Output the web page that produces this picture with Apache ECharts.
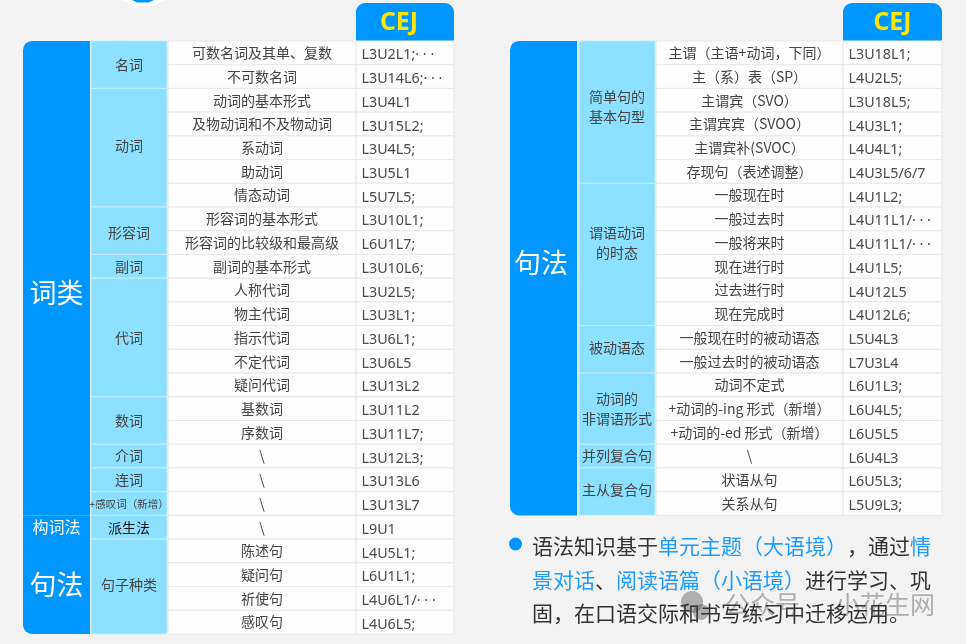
<!DOCTYPE html>
<html>
<head>
<meta charset="utf-8">
<style>html,body{margin:0;padding:0;background:#f3f3f3}#main{width:966px;height:644px}</style>
<script src="https://cdn.jsdelivr.net/npm/echarts@6/dist/echarts.min.js"></script>
</head>
<body>
<div id="main"></div>
<script>
// left table
var leftFamilies = ['词类', '构词法', '句法'];
var leftFamilySpans = [20, 1, 4];
var leftGroups = ['名词', '动词', '形容词', '副词', '代词', '数词', '介词', '连词', '+感叹词（新增）', '派生法', '句子种类'];
var leftGroupSpans = [2, 5, 2, 1, 5, 2, 1, 1, 1, 1, 4];
var leftTopics = ['可数名词及其单、复数', '不可数名词', '动词的基本形式', '及物动词和不及物动词', '系动词', '助动词', '情态动词',
    '形容词的基本形式', '形容词的比较级和最高级', '副词的基本形式', '人称代词', '物主代词', '指示代词', '不定代词', '疑问代词',
    '基数词', '序数词', '\\', '\\', '\\', '\\', '陈述句', '疑问句', '祈使句', '感叹句'];
var leftLessons = ['L3U2L1;· · ·', 'L3U14L6;· · ·', 'L3U4L1', 'L3U15L2;', 'L3U4L5;', 'L3U5L1', 'L5U7L5;',
    'L3U10L1;', 'L6U1L7;', 'L3U10L6;', 'L3U2L5;', 'L3U3L1;', 'L3U6L1;', 'L3U6L5', 'L3U13L2',
    'L3U11L2', 'L3U11L7;', 'L3U12L3;', 'L3U13L6', 'L3U13L7', 'L9U1', 'L4U5L1;', 'L6U1L1;', 'L4U6L1/· · ·', 'L4U6L5;'];

// right table
var rightFamilies = ['句法'];
var rightFamilySpans = [20];
var rightGroups = ['简单句的\n基本句型', '谓语动词\n的时态', '被动语态', '动词的\n非谓语形式', '并列复合句', '主从复合句'];
var rightGroupSpans = [6, 6, 2, 3, 1, 2];
var rightTopics = ['主谓（主语+动词，下同）', '主（系）表（SP）', '主谓宾（SVO）', '主谓宾宾（SVOO）', '主谓宾补(SVOC）', '存现句（表述调整）',
    '一般现在时', '一般过去时', '一般将来时', '现在进行时', '过去进行时', '现在完成时',
    '一般现在时的被动语态', '一般过去时的被动语态', '动词不定式', '+动词的-ing 形式（新增）', '+动词的-ed 形式（新增）',
    '\\', '状语从句', '关系从句'];
var rightLessons = ['L3U18L1;', 'L4U2L5;', 'L3U18L5;', 'L4U3L1;', 'L4U4L1;', 'L4U3L5/6/7',
    'L4U1L2;', 'L4U11L1/· · ·', 'L4U11L1/· · ·', 'L4U1L5;', 'L4U12L5', 'L4U12L6;',
    'L5U4L3', 'L7U3L4', 'L6U1L3;', 'L6U4L5;', 'L6U5L5', 'L6U4L3', 'L6U5L3;', 'L5U9L3;'];

var headerLabel = 'CEJ';

var BLUE = '#0096ff', SKY = '#8de0ff', FONT = '"Noto Sans CJK SC"';
var HEADER_ROWS = 1.6;

// x units are pixels of the column widths
var leftCols = {start: [0, 68, 145, 333], end: [67, 144, 333, 431], headDx: -6, familyDx: 0};
var rightCols = {start: [0, 69, 146, 333], end: [67, 145, 333, 432], headDx: 0, familyDx: -2.5};
// labels that sit off the middle of their merged cell
var leftNudge = {'词类': 15, '句法': -1.5, '动词': -2, '形容词': 1.5, '句子种类': -2};
var rightNudge = {'句法': -15, '简单句的\n基本句型': -5, '谓语动词\n的时态': -12, '被动语态': -2, '主从复合句': -2};

function spanCells(col, names, spans)
{
    var cells = [], row = 0;
    for (var i = 0; i < names.length; i++) {
        cells.push({col: col, start: row, end: row + spans[i], text: names[i]});
        row += spans[i];
    }
    return cells;
}
function rowCells(col, names)
{
    var one = names.map(function () { return 1; });
    return spanCells(col, names, one);
}

function tableSeries(idx, cols, nudge, families, familySpans, groups, groupSpans, topics, lessons)
{
    var cells = [{col: 3, start: -HEADER_ROWS, end: 0, text: headerLabel, head: true}]
        .concat(rowCells(2, topics), rowCells(3, lessons), spanCells(1, groups, groupSpans), spanCells(0, families, familySpans));
    var total = topics.length;

    function renderItem(params, api)
    {
        var c = cells[params.dataIndex];
        var x0 = cols.start[c.col], x1 = cols.end[c.col];
        var p0 = api.coord([x0, c.start]), p1 = api.coord([x1, c.end]);
        var fill = '#fdfdfd', stroke = '#e8e8e8', lw = 1, r = 0;
        var color = '#444', size = 14, weight = 400, family = FONT, tx = (p0[0] + p1[0]) / 2, ty = (p0[1] + p1[1]) / 2, align = 'center';
        if (c.head) {
            fill = BLUE; stroke = null; r = [9, 9, 0, 0];
            color = '#ffe600'; size = 25; weight = 700; family = '"Open Sans"';
            tx += cols.headDx;
            ty += 1;
        } else if (c.col == 0) {
            fill = BLUE; stroke = null; color = '#fff'; size = c.text.length == 3 ? 16 : 27;
            r = [c.start == 0 ? 9 : 0, 0, 0, c.end == total ? 9 : 0];
            tx += cols.familyDx;
            ty += nudge[c.text] || 0;
        } else if (c.col == 1) {
            fill = SKY; stroke = '#c4efff';
            ty += nudge[c.text] || 0;
            if (c.text.charAt(0) == '+') size = 10.5;
            if (c.text == '派生法') color = '#111';
        } else if (c.col == 3) {
            tx = p0[0] + 5.5; ty += 2.5; align = 'left'; family = '"Noto Sans"'; color = '#4a4a4a'; size = 14.3;
        }
        return {
            type: 'group',
            children: [{
                type: 'rect',
                shape: {x: p0[0], y: p0[1], width: p1[0] - p0[0], height: p1[1] - p0[1], r: r},
                style: {fill: fill, stroke: stroke, lineWidth: lw}
            }, {
                type: 'text',
                z2: 5,
                style: {
                    text: c.text, x: tx, y: ty, fill: color, align: align, verticalAlign: 'middle',
                    fontSize: size, fontWeight: weight, fontFamily: family, lineHeight: 20
                }
            }]
        };
    }

    return {
        type: 'custom',
        xAxisIndex: idx,
        yAxisIndex: idx,
        clip: false,
        silent: true,
        renderItem: renderItem,
        data: cells.map(function (c) { return [c.col, c.start, c.end]; })
    };
}

var chart = echarts.init(document.getElementById('main'));
chart.setOption({
    animation: false,
    backgroundColor: '#f3f3f3',
    grid: [
        {left: 23, top: 3, width: 431, height: 631},
        {left: 510, top: 3, width: 432, height: 512.4}
    ],
    xAxis: [
        {type: 'value', gridIndex: 0, min: 0, max: 431, show: false},
        {type: 'value', gridIndex: 1, min: 0, max: 432, show: false}
    ],
    yAxis: [
        {type: 'value', gridIndex: 0, min: -HEADER_ROWS, max: leftTopics.length, inverse: true, show: false},
        {type: 'value', gridIndex: 1, min: -HEADER_ROWS, max: rightTopics.length, inverse: true, show: false}
    ],
    series: [
        tableSeries(0, leftCols, leftNudge, leftFamilies, leftFamilySpans, leftGroups, leftGroupSpans, leftTopics, leftLessons),
        tableSeries(1, rightCols, rightNudge, rightFamilies, rightFamilySpans, rightGroups, rightGroupSpans, rightTopics, rightLessons)
    ],
    graphic: [
        // badge cut off by the top edge
        {type: 'polygon', shape: {points: [[122, 0], [134, 6], [152, 6], [165, 0]]}, style: {fill: '#fff'}},
        {type: 'polygon', shape: {points: [[132, 0], [137, 2.5], [149, 2.5], [154, 0]]}, style: {fill: BLUE}},
        // watermark goes under the note
        {type: 'circle', shape: {cx: 692, cy: 602, r: 11}, style: {fill: 'rgba(90,90,90,0.45)'}},
        {type: 'circle', shape: {cx: 701, cy: 612, r: 8}, style: {fill: 'rgba(90,90,90,0.45)'}},
        {
            type: 'text', left: 725, top: 592,
            style: {text: '公众号', fill: 'rgba(90,90,90,0.45)', fontSize: 25, fontFamily: FONT}
        },
        {
            type: 'text', left: 835, top: 592,
            style: {text: '小花生网', fill: 'rgba(90,90,90,0.45)', fontSize: 25, fontFamily: FONT}
        },
        // note under the right table
        {type: 'circle', shape: {cx: 515.5, cy: 544, r: 6.5}, style: {fill: BLUE}},
        {
            type: 'text',
            left: 532,
            top: 536,
            style: {
                rich: {
                    d: {fill: '#333', fontSize: 21, fontFamily: FONT, lineHeight: 33.5},
                    b: {fill: '#1e9bff', fontSize: 21, fontFamily: FONT, lineHeight: 33.5}
                },
                text: '{d|语法知识基于}{b|单元主题（大语境）}{d|，通过}{b|情}\n' +
                    '{b|景对话}{d|、}{b|阅读语篇（小语境）}{d|进行学习、巩}\n' +
                    '{d|固，在口语交际和书写练习中迁移运用。}'
            }
        }
    ]
});
</script>
</body>
</html>
